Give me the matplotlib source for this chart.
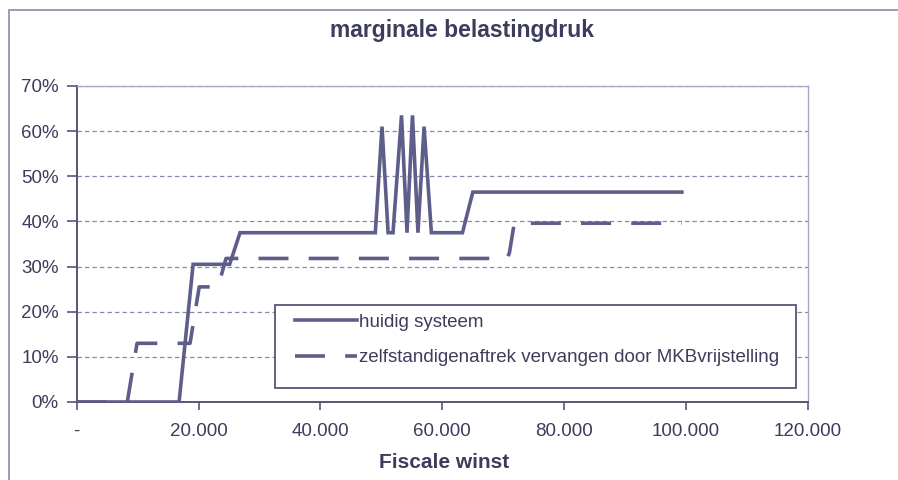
import matplotlib
matplotlib.use("Agg")
import matplotlib.pyplot as plt
from matplotlib.lines import Line2D
from matplotlib.patches import Rectangle

# ---- data ----
huidig_x = [0, 16800, 19100, 25100, 26800, 49000, 50100, 51100, 51900, 53300,
            54200, 55100, 56000, 57000, 58200, 63300, 65000, 99300]
huidig_y = [0, 0, 30.5, 30.5, 37.5, 37.5, 61, 37.5, 37.5, 63.5,
            37.5, 63.5, 37.5, 61, 37.5, 37.5, 46.5, 46.5]

mkb_x = [0, 8300, 9900, 18600, 20100, 23200, 24500, 70600, 71000, 71800, 99300]
mkb_y = [0, 0, 13, 13, 25.5, 25.5, 31.8, 31.8, 33, 39.6, 39.6]

series_labels = ["huidig systeem", "zelfstandigenaftrek vervangen door MKBvrijstelling"]
x_ticks = [0, 20000, 40000, 60000, 80000, 100000, 120000]
x_ticklabels = ["-", "20.000", "40.000", "60.000", "80.000", "100.000", "120.000"]
y_ticks = [0, 10, 20, 30, 40, 50, 60, 70]
y_ticklabels = ["0%", "10%", "20%", "30%", "40%", "50%", "60%", "70%"]
title = "marginale belastingdruk"
xlabel = "Fiscale winst"

# ---- style ----
plt.rcParams['font.family'] = ['Liberation Sans', 'DejaVu Sans']
W, H = 898, 480
line_c = '#5e5e8a'
axis_c = '#55557a'
text_c = '#3c3c5c'
light_c = '#a8a8c4'

fig = plt.figure(figsize=(W / 100, H / 100), dpi=100)
fig.patch.set_facecolor('white')

x0, x1, ytop, ybot = 76.7, 808, 86, 402
ax = fig.add_axes([x0 / W, 1 - ybot / H, (x1 - x0) / W, (ybot - ytop) / H])

ax.plot(huidig_x, huidig_y, color=line_c, lw=2.6, solid_joinstyle='miter', zorder=3)
ax.plot(mkb_x, mkb_y, color=line_c, lw=2.6, linestyle=(0, (8.3, 5.6)), zorder=3)

ax.set_xlim(0, 120000)
ax.set_ylim(0, 70)
ax.set_xticks(x_ticks)
ax.set_xticklabels(x_ticklabels)
ax.set_yticks(y_ticks)
ax.set_yticklabels(y_ticklabels)

ax.set_axisbelow(True)
ax.yaxis.grid(True, color='#8a8aa8', lw=0.9, linestyle=(0, (3.5, 2.5)))
ax.xaxis.grid(False)

for s in ['left', 'bottom']:
    ax.spines[s].set_color(axis_c)
    ax.spines[s].set_linewidth(1.4)
for s in ['top', 'right']:
    ax.spines[s].set_color(light_c)
    ax.spines[s].set_linewidth(1.0)

ax.tick_params(axis='y', direction='out', length=7, width=1.2, color=axis_c,
               pad=6, labelsize=13.5, labelcolor=text_c)
ax.tick_params(axis='x', direction='out', length=6, width=1.2, color=axis_c,
               pad=9, labelsize=13.5, labelcolor=text_c)

# legend box
box = Rectangle((275 / W, 1 - 388 / H), (796 - 275) / W, (388 - 305) / H,
                transform=fig.transFigure, facecolor='white', edgecolor=axis_c,
                lw=1.3, zorder=5)
ax.add_artist(box)
box.set_clip_on(False)

handles = [Line2D([], [], color=line_c, lw=2.6),
           Line2D([], [], color=line_c, lw=2.6, linestyle=(0, (8.3, 5.6)))]
leg = ax.legend(handles, series_labels, loc='upper left',
                bbox_to_anchor=(295 / W, 1 - 313.5 / H), bbox_transform=fig.transFigure,
                frameon=False, borderpad=0, borderaxespad=0, handlelength=3.3,
                handletextpad=0.1, labelspacing=1.0, fontsize=13.5)
for t in leg.get_texts():
    t.set_color(text_c)
leg.set_zorder(6)

fig.text(462 / W, 1 - 30 / H, title, ha='center', va='center', fontsize=16.5,
         fontweight='bold', color=text_c)
fig.text(444 / W, 1 - 462 / H, xlabel, ha='center', va='center', fontsize=15,
         fontweight='bold', color=text_c)

# outer chart border
border = Rectangle((9 / W, -0.2), 1.5, 1 - 10 / H + 0.2, transform=fig.transFigure,
                   fill=False, edgecolor='#8a8aaa', lw=1.2)
fig.patches.append(border)

fig.savefig('out.png', dpi=100)
